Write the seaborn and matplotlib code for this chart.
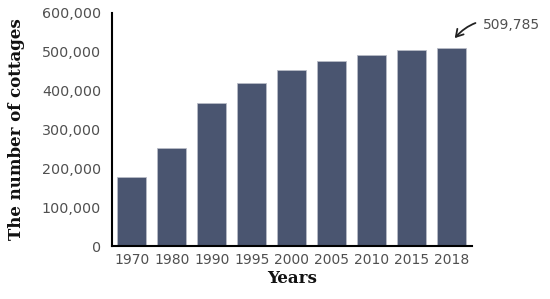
import pandas as pd
import seaborn as sns
import matplotlib
from matplotlib import pyplot as plt

years = ['1970', '1980', '1990', '1995', '2000', '2005', '2010', '2015', '2018']
cottages = [178000, 252000, 369000, 419000, 454000, 477000, 492000, 505000, 509785]
yticks = [0, 100000, 200000, 300000, 400000, 500000, 600000]

df = pd.DataFrame({'Years': years, 'Cottages': cottages})

sns.set_style('white')
plt.rcParams['font.family'] = ['DejaVu Sans']

fig = plt.figure(figsize=(5.5, 2.99), dpi=100)
ax = fig.add_axes([0.204, 0.177, 0.654, 0.78])

sns.barplot(data=df, x='Years', y='Cottages', color='#4a5570', saturation=1,
            width=0.72, edgecolor='#b8bcc6', linewidth=0.6, ax=ax)

ax.set_xlim(-0.49, 8.51)
ax.set_ylim(0, 600000)
ax.set_yticks(yticks)
ax.set_yticklabels(['{:,}'.format(v) for v in yticks])
for s in ['top', 'right']:
    ax.spines[s].set_visible(False)
for s in ['left', 'bottom']:
    ax.spines[s].set_color('black')
    ax.spines[s].set_linewidth(1.5)
ax.tick_params(axis='y', length=5, width=1.5, color='black', labelsize=10.3, labelcolor='#505050', pad=3)
ax.tick_params(axis='x', length=0, labelsize=10, labelcolor='#505050', pad=5)

lab = {'family': 'DejaVu Serif', 'weight': 'bold', 'size': 12, 'color': '#111111'}
ax.set_xlabel('Years', fontdict=lab, labelpad=2)
ax.set_ylabel('The number of cottages', fontdict=lab, labelpad=12)

ax.annotate('{:,}'.format(cottages[-1]), xy=(8.08, 535000), xytext=(8.78, 570000),
            fontsize=10, color='#505050', va='center', ha='left', annotation_clip=False,
            arrowprops=dict(arrowstyle='->,head_length=0.5,head_width=0.3', color='#222222', lw=1.3,
                            connectionstyle='arc3,rad=0.35', shrinkA=3, shrinkB=0))

plt.savefig('out.png', dpi=100)
